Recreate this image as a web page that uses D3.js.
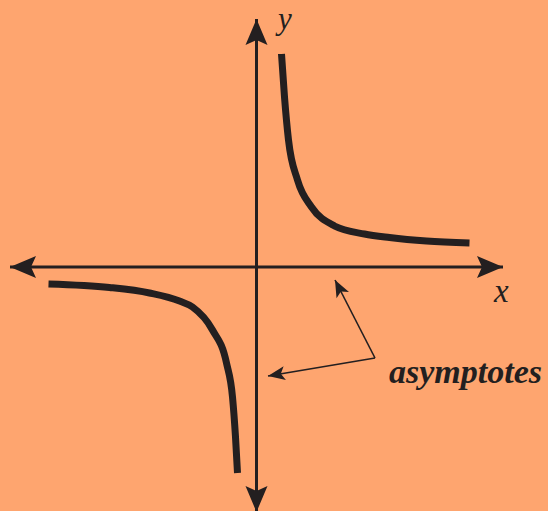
<!DOCTYPE html>
<html>
<head>
<meta charset="utf-8">
<script src="https://cdn.jsdelivr.net/npm/d3@7/dist/d3.min.js"></script>
<style>
  html, body { margin: 0; padding: 0; background: #fea56f; }
  svg { display: block; }
</style>
</head>
<body>
<script>
// hyperbola branches (units: 1 = one grid step)
var upperBranch = [
  [0.50, 4.26], [0.56, 3.40], [0.64, 2.54], [0.82, 1.74], [1.10, 1.20],
  [1.56, 0.82], [2.16, 0.66], [2.66, 0.59], [3.40, 0.52], [4.26, 0.48]
];
var lowerBranch = [
  [-4.16, -0.34], [-2.94, -0.41], [-2.14, -0.52], [-1.54, -0.68], [-1.28, -0.80],
  [-0.88, -1.26], [-0.60, -1.92], [-0.48, -2.60], [-0.42, -3.40], [-0.38, -4.12]
];

// axis extents (arrow tip to arrow tip)
var xAxisExtent = [-4.93, 4.93];
var yAxisExtent = [-4.90, 4.96];

// annotation: two pointers from one vertex
var pointerFrom = [2.37, -1.82];
var pointerTargets = [[1.57, -0.26], [0.23, -2.18]];

var labels = { x: "x", y: "y", note: "asymptotes" };

var chart = {
  width: 548,
  height: 511,
  ink: "#231f20"
};

chart.svg = d3.select("body").append("svg")
  .attr("width", chart.width)
  .attr("height", chart.height);

chart.svg.append("rect")
  .attr("width", chart.width)
  .attr("height", chart.height)
  .attr("fill", "#fea56f");

var xScale = d3.scaleLinear().domain([0, 1]).range([256.5, 306.5]);
var yScale = d3.scaleLinear().domain([0, 1]).range([267, 217]);

var defs = chart.svg.append("defs");
defs.append("marker")
  .attr("id", "bigArrow")
  .attr("markerUnits", "userSpaceOnUse")
  .attr("viewBox", "-28 -12 30 24")
  .attr("markerWidth", 30)
  .attr("markerHeight", 24)
  .attr("refX", 0)
  .attr("refY", 0)
  .attr("orient", "auto")
  .append("path")
  .attr("d", "M0,0L-26,-11L-21,0L-26,11Z")
  .attr("fill", chart.ink);

defs.append("marker")
  .attr("id", "smallArrow")
  .attr("markerUnits", "userSpaceOnUse")
  .attr("viewBox", "-18 -8 20 16")
  .attr("markerWidth", 20)
  .attr("markerHeight", 16)
  .attr("refX", 0)
  .attr("refY", 0)
  .attr("orient", "auto")
  .append("path")
  .attr("d", "M0,0L-17,-7L-13,0L-17,7Z")
  .attr("fill", chart.ink);

var g = chart.svg.append("g");

// axes
var axisLine = d3.line()
  .x(function(d) { return xScale(d[0]); })
  .y(function(d) { return yScale(d[1]); });

var axisEnds = [
  [xAxisExtent[0], 0], [xAxisExtent[1], 0],
  [0, yAxisExtent[1]], [0, yAxisExtent[0]]
];
g.selectAll(".axis")
  .data(axisEnds)
  .enter().append("path")
  .attr("class", "axis")
  .attr("d", function(d) { return axisLine([[0, 0], d]); })
  .attr("stroke", chart.ink)
  .attr("stroke-width", 3)
  .attr("fill", "none")
  .attr("marker-end", "url(#bigArrow)");

// curve
var curveLine = d3.line()
  .x(function(d) { return xScale(d[0]); })
  .y(function(d) { return yScale(d[1]); })
  .curve(d3.curveMonotoneX);

g.selectAll(".branch")
  .data([upperBranch, lowerBranch])
  .enter().append("path")
  .attr("class", "branch")
  .attr("d", curveLine)
  .attr("stroke", chart.ink)
  .attr("stroke-width", 7)
  .attr("fill", "none");

// pointers
g.selectAll(".pointer")
  .data(pointerTargets)
  .enter().append("path")
  .attr("class", "pointer")
  .attr("d", function(d) { return axisLine([pointerFrom, d]); })
  .attr("stroke", chart.ink)
  .attr("stroke-width", 1.6)
  .attr("fill", "none")
  .attr("marker-end", "url(#smallArrow)");

// labels
var serif = "'Liberation Serif', 'Times New Roman', serif";

g.append("text")
  .attr("x", 278).attr("y", 29)
  .attr("font-family", serif)
  .attr("font-style", "italic")
  .attr("font-size", 31)
  .attr("fill", chart.ink)
  .text(labels.y);

g.append("text")
  .attr("x", 494).attr("y", 302)
  .attr("font-family", serif)
  .attr("font-style", "italic")
  .attr("font-size", 33)
  .attr("fill", chart.ink)
  .text(labels.x);

g.append("text")
  .attr("x", 389).attr("y", 383)
  .attr("font-family", serif)
  .attr("font-style", "italic")
  .attr("font-weight", "bold")
  .attr("font-size", 34)
  .attr("textLength", 153)
  .attr("lengthAdjust", "spacingAndGlyphs")
  .attr("fill", chart.ink)
  .text(labels.note);
</script>
</body>
</html>
